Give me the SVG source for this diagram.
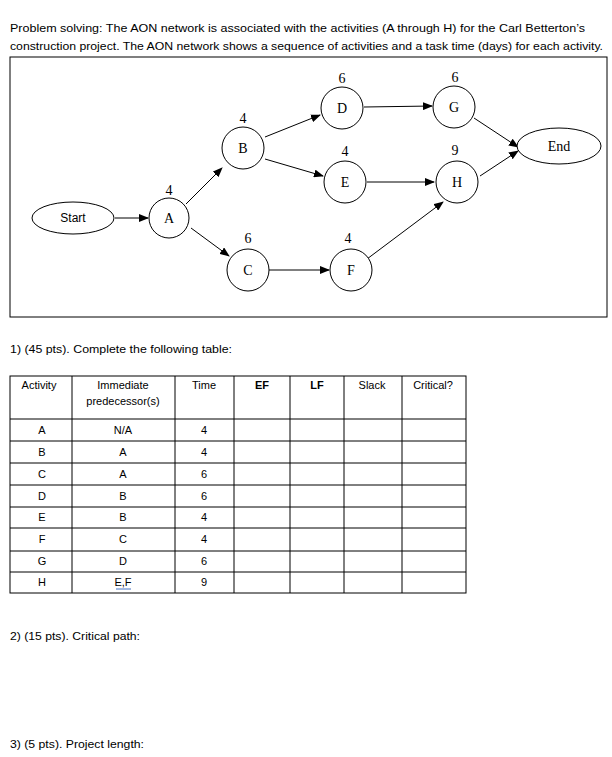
<svg xmlns="http://www.w3.org/2000/svg" width="612" height="757" viewBox="0 0 612 757">
<style>
.t{font-family:"Liberation Sans",Arial,sans-serif;font-size:11px;fill:#000}
.c{text-anchor:middle}
.n{font-family:"Liberation Serif","Times New Roman",serif;font-size:14px;text-anchor:middle;fill:#000}
.nd{fill:#fff;stroke:#000;stroke-width:1}
.e{stroke:#000;stroke-width:1;fill:none;marker-end:url(#ah)}
.g{stroke:#000;stroke-width:1}
</style>
<defs><marker id="ah" markerWidth="10" markerHeight="8" refX="9" refY="4" orient="auto" markerUnits="userSpaceOnUse"><path d="M0,0 L10,4 L0,8 z" fill="#000"/></marker></defs>
<rect width="612" height="757" fill="#fff"/>
<text class="t" x="10" y="32" textLength="575" lengthAdjust="spacingAndGlyphs">Problem solving: The AON network is associated with the activities (A through H) for the Carl Betterton’s</text>
<text class="t" x="10" y="50" textLength="593" lengthAdjust="spacingAndGlyphs">construction project. The AON network shows a sequence of activities and a task time (days) for each activity.</text>
<rect x="10" y="57" width="597" height="260" fill="none" stroke="#000"/>
<g id="connectors">
<line class="e" x1="115" y1="218" x2="148" y2="218"/>
<line class="e" x1="186" y1="204" x2="222" y2="168"/>
<line class="e" x1="191" y1="228" x2="229" y2="256"/>
<line class="e" x1="265" y1="137" x2="320" y2="115"/>
<line class="e" x1="265" y1="159" x2="323" y2="176"/>
<line class="e" x1="269" y1="270" x2="329" y2="270"/>
<line class="e" x1="364" y1="107" x2="432" y2="106"/>
<line class="e" x1="367" y1="182" x2="434" y2="182"/>
<line class="e" x1="367" y1="259" x2="443" y2="202"/>
<line class="e" x1="474" y1="118" x2="518" y2="147"/>
<line class="e" x1="480" y1="176" x2="518" y2="151"/>
</g>
<g id="Start"><ellipse class="nd" cx="73" cy="218" rx="41" ry="16"/><text class="t c" x="73" y="222" style="font-size:12px">Start</text></g>
<g id="A"><circle class="nd" cx="169" cy="218" r="20"/><text class="n" x="169" y="223">A</text><text class="n" x="169" y="195">4</text></g>
<g id="B"><circle class="nd" cx="243" cy="148" r="21"/><text class="n" x="243" y="153">B</text><text class="n" x="243" y="123">4</text></g>
<g id="C"><circle class="nd" cx="248" cy="270" r="21"/><text class="n" x="248" y="275">C</text><text class="n" x="248" y="243">6</text></g>
<g id="D"><circle class="nd" cx="342" cy="108" r="21"/><text class="n" x="342" y="113">D</text><text class="n" x="342" y="83">6</text></g>
<g id="E"><circle class="nd" cx="345" cy="182" r="21"/><text class="n" x="345" y="187">E</text><text class="n" x="345" y="156">4</text></g>
<g id="F"><circle class="nd" cx="351" cy="270" r="21"/><text class="n" x="351" y="275">F</text><text class="n" x="348" y="243">4</text></g>
<g id="G"><circle class="nd" cx="454" cy="107" r="21"/><text class="n" x="454" y="112">G</text><text class="n" x="455" y="82">6</text></g>
<g id="H"><circle class="nd" cx="457" cy="182" r="21"/><text class="n" x="457" y="187">H</text><text class="n" x="455" y="155">9</text></g>
<g id="End"><ellipse class="nd" cx="559" cy="146" rx="42" ry="18"/><text class="n" x="559" y="151">End</text></g>
<text class="t" x="10" y="353" textLength="222" lengthAdjust="spacingAndGlyphs">1) (45 pts). Complete the following table:</text>
<g id="table">
<rect x="10" y="376" width="456" height="217" fill="none" stroke="#000"/>
<g class="g">
<line x1="72" y1="376" x2="72" y2="593"/><line x1="175" y1="376" x2="175" y2="593"/><line x1="234" y1="376" x2="234" y2="593"/><line x1="290" y1="376" x2="290" y2="593"/><line x1="344" y1="376" x2="344" y2="593"/><line x1="402" y1="376" x2="402" y2="593"/>
<line x1="10" y1="419" x2="466" y2="419"/><line x1="10" y1="441" x2="466" y2="441"/><line x1="10" y1="463" x2="466" y2="463"/><line x1="10" y1="485" x2="466" y2="485"/><line x1="10" y1="507" x2="466" y2="507"/><line x1="10" y1="528" x2="466" y2="528"/><line x1="10" y1="551" x2="466" y2="551"/><line x1="10" y1="572" x2="466" y2="572"/>
</g>
<g class="t c">
<text x="39" y="389">Activity</text><text x="123" y="389">Immediate</text><text x="123" y="405">predecessor(s)</text><text x="204" y="389">Time</text>
<text x="262" y="389" font-weight="bold">EF</text><text x="317" y="389" font-weight="bold">LF</text><text x="372" y="389">Slack</text><text x="433" y="389">Critical?</text>
<text x="42" y="434">A</text><text x="123" y="434">N/A</text><text x="204" y="434">4</text>
<text x="42" y="456">B</text><text x="123" y="456">A</text><text x="204" y="456">4</text>
<text x="42" y="478">C</text><text x="123" y="478">A</text><text x="204" y="478">6</text>
<text x="42" y="500">D</text><text x="123" y="500">B</text><text x="204" y="500">6</text>
<text x="42" y="521">E</text><text x="123" y="521">B</text><text x="204" y="521">4</text>
<text x="42" y="543">F</text><text x="123" y="543">C</text><text x="204" y="543">4</text>
<text x="42" y="565">G</text><text x="123" y="565">D</text><text x="204" y="565">6</text>
<text x="42" y="586">H</text><text x="123" y="586">E,F</text><text x="204" y="586">9</text>
</g>
<line x1="116" y1="589" x2="131" y2="589" stroke="#4472c4" stroke-width="1"/>
</g>
<text class="t" x="10" y="640" textLength="130" lengthAdjust="spacingAndGlyphs">2) (15 pts). Critical path:</text>
<text class="t" x="10" y="748" textLength="134" lengthAdjust="spacingAndGlyphs">3) (5 pts). Project length:</text>
</svg>
